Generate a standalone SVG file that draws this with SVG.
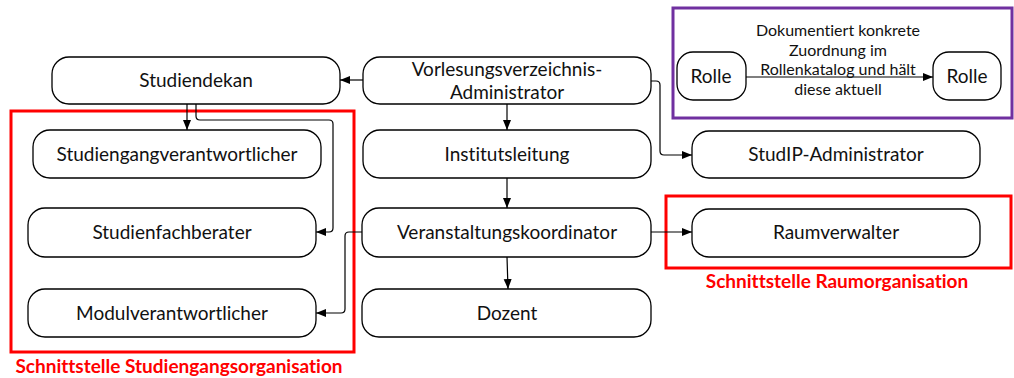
<svg xmlns="http://www.w3.org/2000/svg" width="1014" height="378" viewBox="0 0 1014 378">
<defs>
<marker id="arr" markerUnits="userSpaceOnUse" markerWidth="10" markerHeight="10" viewBox="0 0 10 10" refX="10" refY="5" orient="auto">
<path d="M0,1 L10,5 L0,9 Z" fill="#000"/>
</marker>
<style>
text{font-variant-ligatures:none}
.node{fill:#fff;stroke:#000;stroke-width:1.3}
.t{font-family:Lato,"Liberation Sans",sans-serif;font-size:19px;fill:#111;text-anchor:middle}
.s{font-family:Lato,"Liberation Sans",sans-serif;font-size:16px;fill:#111;text-anchor:middle}
.ca{fill:none;stroke:#000;stroke-width:1.2;marker-end:url(#arr)}
.red{fill:none;stroke:#ff0000;stroke-width:3}
.rl{font-family:Lato,"Liberation Sans",sans-serif;font-size:19px;font-weight:bold;fill:#ff0000;text-anchor:middle}
</style>
</defs>
<rect width="1014" height="378" fill="#fff"/>
<g id="frames">
<rect class="red" x="11" y="111" width="343" height="241"/>
<text class="rl" x="179" y="373">Schnittstelle Studiengangsorganisation</text>
<rect class="red" x="666" y="196" width="345" height="72"/>
<text class="rl" x="837" y="288">Schnittstelle Raumorganisation</text>
<rect x="673" y="8" width="339" height="110" fill="none" stroke="#7030a0" stroke-width="3"/>
</g>
<g id="connectors">
<path class="ca" d="M363,80 H340"/>
<path class="ca" d="M507,104 V130"/>
<path class="ca" d="M507,178 V208"/>
<path class="ca" d="M507,257 L508,289"/>
<path class="ca" d="M187,104 V130"/>
<path class="ca" d="M196,104 V116 Q196,120 200,120 H329 Q333,120 333,124 V228 Q333,232 329,232 H316"/>
<path class="ca" d="M362,232 H349 Q345,232 345,236 V309 Q345,313 341,313 H316"/>
<path class="ca" d="M651,81 H656 Q660,81 660,85 V151 Q660,155 664,155 H692"/>
<path class="ca" d="M651,232 H692"/>
<path class="ca" d="M746,77 H933"/>
</g>
<g id="studiendekan"><rect class="node" x="52" y="57" width="288" height="47" rx="17"/><text class="t" x="196" y="87">Studiendekan</text></g>
<g id="vvadmin"><rect class="node" x="363" y="57" width="288" height="47" rx="17"/><text class="t" x="507" y="76">Vorlesungsverzeichnis-</text><text class="t" x="507" y="99">Administrator</text></g>
<g id="studiengangverantwortlicher"><rect class="node" x="33" y="130" width="288" height="48" rx="17"/><text class="t" x="177" y="161">Studiengangverantwortlicher</text></g>
<g id="institutsleitung"><rect class="node" x="363" y="130" width="288" height="48" rx="17"/><text class="t" x="507" y="161">Institutsleitung</text></g>
<g id="studipadmin"><rect class="node" x="692" y="131" width="288" height="47" rx="17"/><text class="t" x="836" y="161">StudIP-Administrator</text></g>
<g id="studienfachberater"><rect class="node" x="28" y="208" width="288" height="49" rx="17"/><text class="t" x="172" y="239">Studienfachberater</text></g>
<g id="veranstaltungskoordinator"><rect class="node" x="362" y="208" width="289" height="49" rx="17"/><text class="t" x="507" y="239">Veranstaltungskoordinator</text></g>
<g id="raumverwalter"><rect class="node" x="692" y="209" width="288" height="48" rx="17"/><text class="t" x="836" y="239">Raumverwalter</text></g>
<g id="modulverantwortlicher"><rect class="node" x="28" y="289" width="288" height="48" rx="17"/><text class="t" x="172" y="320">Modulverantwortlicher</text></g>
<g id="dozent"><rect class="node" x="362" y="289" width="289" height="48" rx="17"/><text class="t" x="507" y="320">Dozent</text></g>
<g id="rolle1"><rect class="node" x="677" y="52" width="69" height="48" rx="16"/><text class="t" x="711" y="83">Rolle</text></g>
<g id="rolle2"><rect class="node" x="933" y="52" width="68" height="48" rx="16"/><text class="t" x="967" y="83">Rolle</text></g>
<g id="legendtext">
<text class="s" x="838" y="36">Dokumentiert konkrete</text>
<text class="s" x="838" y="56">Zuordnung im</text>
<text class="s" x="838" y="75">Rollenkatalog und hält</text>
<text class="s" x="838" y="95">diese aktuell</text>
</g>
</svg>
